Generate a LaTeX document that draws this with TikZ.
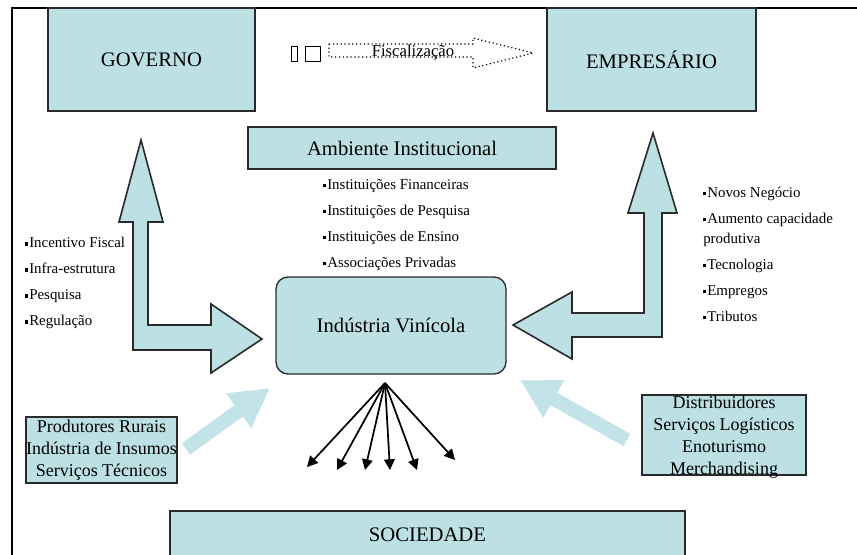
\documentclass[tikz,border=0pt]{standalone}
\usepackage{fontspec}
\setmainfont{Liberation Serif}
\usepackage{tikz}
\usetikzlibrary{arrows.meta,positioning}
\definecolor{BoxFill}{HTML}{BCE0E4}
\definecolor{SoftFill}{HTML}{C2E3E7}
\definecolor{BoxLine}{HTML}{2A2A2A}
\newcommand{\sq}{\raisebox{0.3ex}{\rule{2.4pt}{2.4pt}}\hspace{0.6pt}}
\tikzset{
  box/.style={draw=BoxLine,fill=BoxFill,line width=1pt,inner sep=0pt,align=center,font=\fontsize{15.5}{18}\selectfont},
  smallbox/.style={box,font=\fontsize{13.5}{16.5}\selectfont},
  blockArrow/.style={draw=BoxLine,fill=BoxFill,line width=1.2pt,line join=miter},
  softArrow/.style={draw=SoftFill,line width=10.5pt,-{Triangle[length=29pt,width=30pt]}},
  fanArrow/.style={-{Triangle[length=8pt,width=8pt]},line width=1.3pt,draw=black},
  bulletList/.style={anchor=west,align=left,inner sep=0pt,font=\fontsize{11.2}{15}\selectfont}
}
\begin{document}
\begin{tikzpicture}[x=0.75pt,y=-0.75pt]
  \clip (0,0) rectangle (857,554);
  \useasboundingbox (0,0) rectangle (857,554);
  \fill[white] (0,0) rectangle (857,554);
  % frame
  \draw[line width=1.5pt] (12,560) -- (12,8) -- (860,8);
  % main boxes
  \node[box,minimum width=155.25pt,minimum height=77.25pt] (gov) at (151.5,59.5) {GOVERNO};
  \node[box,minimum width=156.75pt,minimum height=77.25pt] (emp) at (651.5,59.5) {EMPRESÁRIO};
  \node[box,minimum width=231pt,minimum height=31.5pt] (amb) at (402,148) {Ambiente Institucional};
  \node[box,rounded corners=9pt,minimum width=172.5pt,minimum height=72.75pt] (ind) at (391,325.5) {Indústria Vinícola};
  \node[smallbox,minimum width=113.25pt,minimum height=49.5pt] (prod) at (101.5,450) {Produtores Rurais\\Indústria de Insumos\\Serviços Técnicos};
  \node[smallbox,minimum width=123pt,minimum height=60pt,text depth=0pt] (dist) at (724,435) {};
  \node[align=center,inner sep=0pt,font=\fontsize{13.5}{16.5}\selectfont] (distTxt) at (724,437) {Distribuidores\\Serviços Logísticos\\Enoturismo\\Merchandising};
  \node[box,minimum width=386.25pt,minimum height=36pt] (soc) at (427.5,535) {SOCIEDADE};
  % fiscalizacao arrow
  \draw[line width=0.6pt] (291,46) rectangle (297,61);
  \draw[line width=0.6pt] (305,46) rectangle (320,61);
  \draw[dotted,line width=0.9pt] (329,44) -- (473,44) -- (473,38) -- (533,53) -- (473,68) -- (473,57) -- (329,57) -- cycle;
  \node[inner sep=0pt,font=\fontsize{12.5}{14}\selectfont] (fisc) at (413,52) {Fiscalização};
  % bent block arrows
  \draw[blockArrow] (141,140) -- (163,222) -- (148,222) -- (148,325) -- (211,325) -- (211,304) -- (262,339)
    -- (211,373) -- (211,350) -- (133,350) -- (133,222) -- (119,222) -- cycle;
  \draw[blockArrow] (653,133) -- (677,213) -- (662,213) -- (662,337) -- (572,337) -- (572,359) -- (513,325)
    -- (572,292) -- (572,313) -- (644,313) -- (644,213) -- (628,213) -- cycle;
  % soft arrows
  \coordinate (prodTail) at (186,449);
  \coordinate (prodTip) at (270,388);
  \coordinate (distTail) at (627,440);
  \coordinate (distTip) at (520,380);
  \draw[softArrow] (prodTail) -- (prodTip);
  \draw[softArrow] (distTail) -- (distTip);
  % fan to sociedade
  \coordinate (fan) at (385,383);
  \foreach \ex/\ey in {307/467,337/470,365/470,390/470,417/470,455/460}
    \draw[fanArrow] (fan) -- (\ex,\ey);
  % bullet lists
  \node[bulletList] (instList) at (323,225) {\sq Instituições Financeiras\\[4.5pt]\sq Instituições de Pesquisa\\[4.5pt]\sq Instituições de Ensino\\[4.5pt]\sq Associações Privadas};
  \node[bulletList] (govList) at (25,283) {\sq Incentivo Fiscal\\[4.5pt]\sq Infra-estrutura\\[4.5pt]\sq Pesquisa\\[4.5pt]\sq Regulação};
  \node[bulletList] (empList) at (703,254) {\sq Novos Negócio\\[4.5pt]\sq Aumento capacidade\\produtiva\\[4.5pt]\sq Tecnologia\\[4.5pt]\sq Empregos\\[4.5pt]\sq Tributos};
\end{tikzpicture}
\end{document}
